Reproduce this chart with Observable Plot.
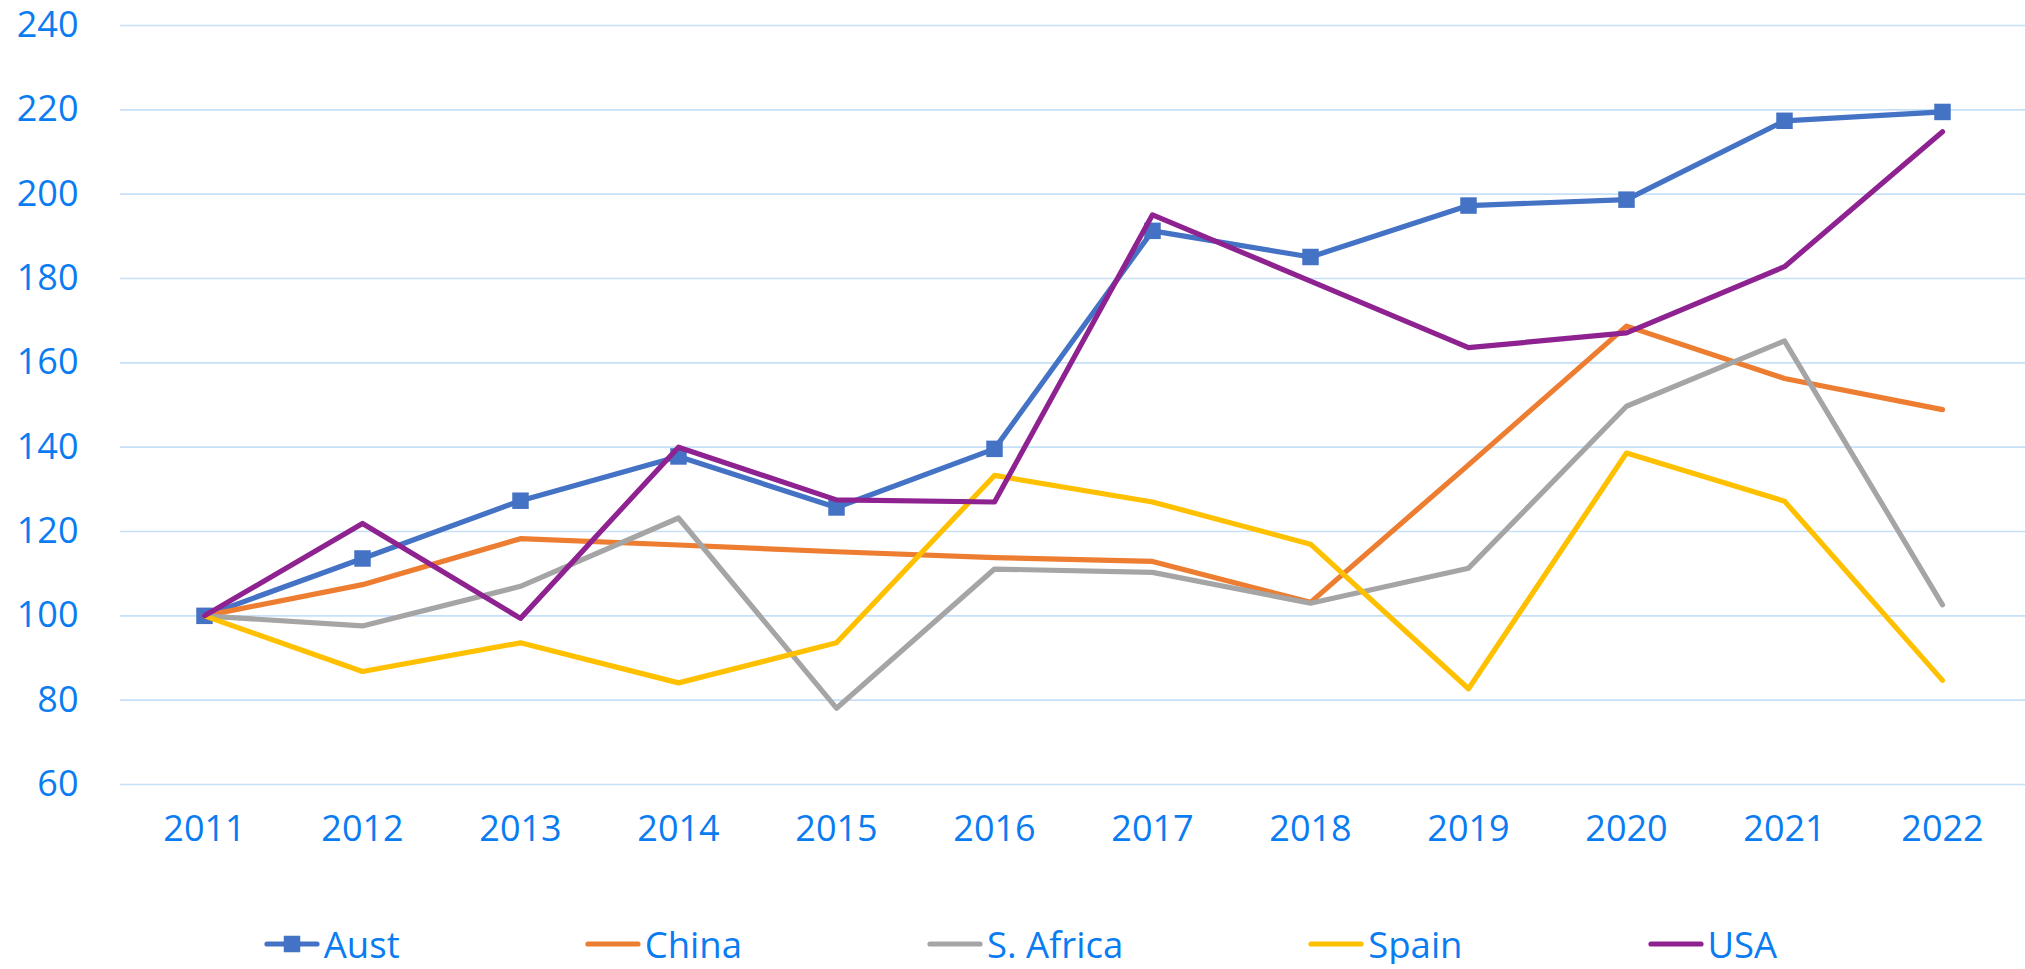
<!DOCTYPE html>
<html>
<head>
<meta charset="utf-8">
<script src="https://cdn.jsdelivr.net/npm/d3@7"></script>
<script src="https://cdn.jsdelivr.net/npm/@observablehq/plot@0.6"></script>
<style>
  html, body { margin: 0; background: #fff; font-family: "Open Sans", sans-serif; overflow: hidden; }
  #chart svg { display: block; }
  #legend { display: flex; justify-content: center; align-items: center; gap: 185px;
            padding-left: 16px; margin-top: 44px; height: 40px; color: #0a7cf2;
            font-size: 36.5px; line-height: 40px; }
  .item { display: flex; align-items: center; gap: 4px; }
  .item svg { display: block; }
</style>
</head>
<body>
<div id="chart"></div>
<div id="legend"></div>
<script>
const years = [2011, 2012, 2013, 2014, 2015, 2016, 2017, 2018, 2019, 2020, 2021, 2022];
const aust    = [100, 113.6, 127.3, 137.8, 125.7, 139.6, 191.3, 185.1, 197.3, 198.7, 217.4, 219.5];
const china   = [100, 107.4, 118.3, 116.8, 115.2, 113.8, 112.9, 103.2, 135.8, 168.7, 156.3, 148.9];
const sAfrica = [100, 97.6, 107.0, 123.2, 78.1, 111.1, 110.3, 103.0, 111.3, 149.7, 165.2, 102.6];
const spain   = [100, 86.8, 93.6, 84.1, 93.6, 133.3, 127.0, 117.0, 82.7, 138.6, 127.2, 84.7];
const usa     = [100, 121.9, 99.4, 140.0, 127.5, 127.0, 195.1, 179.4, 163.6, 167.1, 182.8, 214.8];

const seriesNames  = ["Aust", "China", "S. Africa", "Spain", "USA"];
const seriesValues = [aust, china, sAfrica, spain, usa];
const seriesColors = ["#4472C4", "#ED7D31", "#A5A5A5", "#FFC000", "#8E2290"];
const yTicks = [60, 80, 100, 120, 140, 160, 180, 200, 220, 240];

const textColor = "#0a7cf2";
const gridColor = "#c6e0f8";

const rows = seriesNames.flatMap((name, i) =>
  years.map((year, j) => ({series: name, year, value: seriesValues[i][j]})));
const austRows = rows.filter(d => d.series === "Aust");
const otherRows = rows.filter(d => d.series !== "Aust");

const lineOpts = {x: "year", y: "value", z: "series", stroke: "series",
  strokeWidth: 5.2, strokeLinejoin: "round", strokeLinecap: "round"};

const chart = Plot.plot({
  width: 2025,
  height: 880,
  marginLeft: 120,
  marginRight: 0,
  marginTop: 25,
  marginBottom: 96,
  style: {fontFamily: '"Open Sans", sans-serif', fontSize: "36px", color: textColor, background: "#fff"},
  x: {type: "point", domain: years, padding: 0.5, label: null, tickSize: 0, tickPadding: 31, tickFormat: d => String(d)},
  y: {domain: [60, 240], ticks: yTicks, label: null, tickSize: 0, tickPadding: 42},
  color: {domain: seriesNames, range: seriesColors},
  marks: [
    Plot.gridY(yTicks, {stroke: gridColor, strokeOpacity: 1, strokeWidth: 1.6}),
    Plot.line(austRows, lineOpts),
    Plot.dot(austRows, {x: "year", y: "value", symbol: "square", r: 9.3, fill: "series", stroke: "none"}),
    Plot.line(otherRows, lineOpts)
  ]
});
document.getElementById("chart").appendChild(chart);

// Legend
const legend = document.getElementById("legend");
const ns = "http://www.w3.org/2000/svg";
seriesNames.forEach((name, i) => {
  const item = document.createElement("div");
  item.className = "item";
  const sw = document.createElementNS(ns, "svg");
  sw.setAttribute("width", 56);
  sw.setAttribute("height", 24);
  const ln = document.createElementNS(ns, "line");
  ln.setAttribute("x1", 3); ln.setAttribute("x2", 53);
  ln.setAttribute("y1", 12); ln.setAttribute("y2", 12);
  ln.setAttribute("stroke", seriesColors[i]);
  ln.setAttribute("stroke-width", 5.2);
  ln.setAttribute("stroke-linecap", "round");
  sw.appendChild(ln);
  if (name === "Aust") {
    const sq = document.createElementNS(ns, "rect");
    sq.setAttribute("x", 28 - 8.25); sq.setAttribute("y", 12 - 8.25);
    sq.setAttribute("width", 16.5); sq.setAttribute("height", 16.5);
    sq.setAttribute("fill", seriesColors[i]);
    sw.appendChild(sq);
  }
  const label = document.createElement("span");
  label.textContent = name;
  item.appendChild(sw);
  item.appendChild(label);
  legend.appendChild(item);
});
</script>
</body>
</html>
